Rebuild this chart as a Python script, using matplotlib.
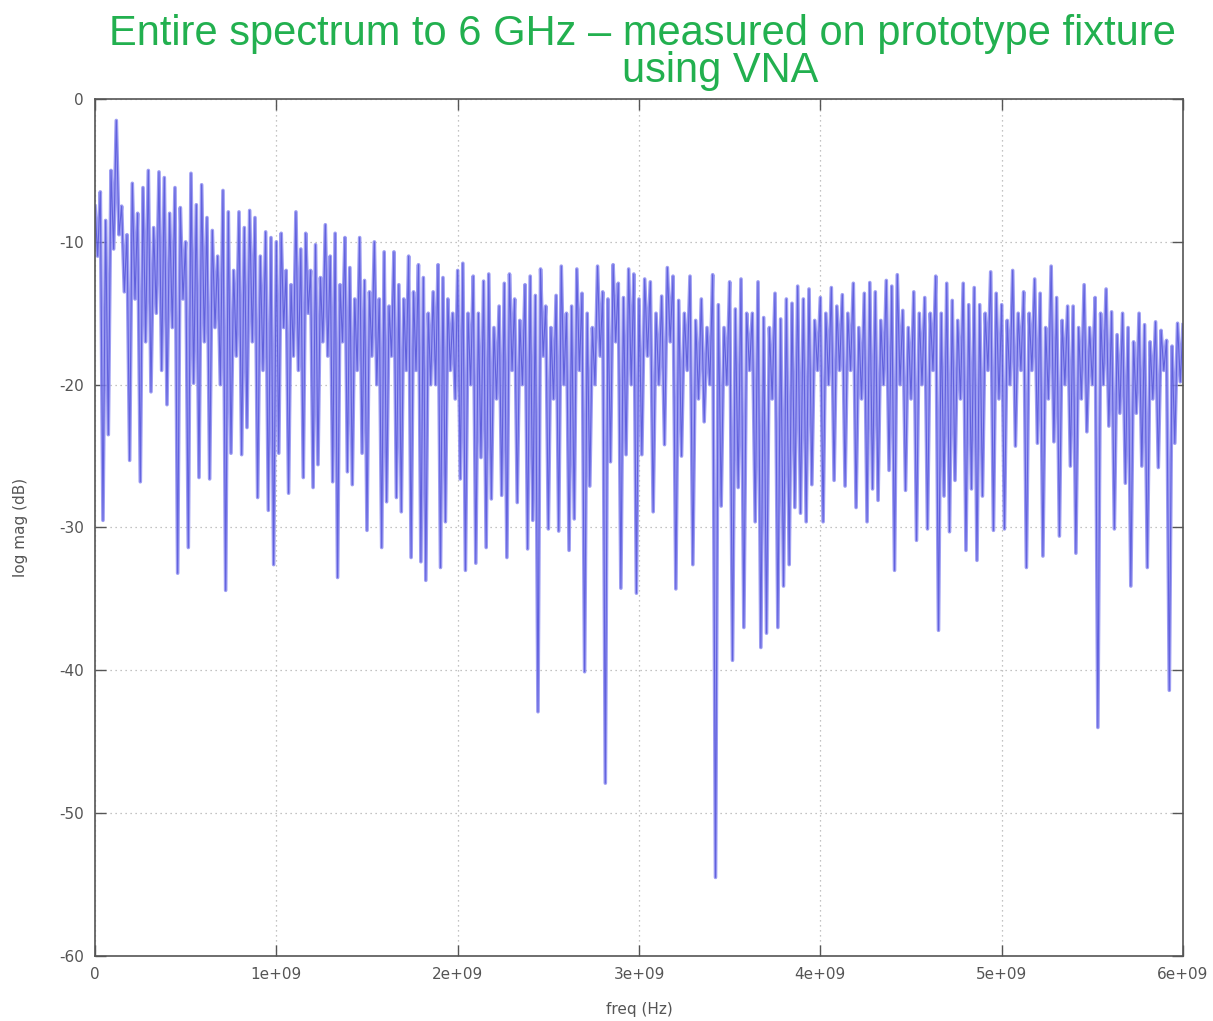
import numpy as np
import matplotlib
matplotlib.use("Agg")
import matplotlib.pyplot as plt
from matplotlib.ticker import FuncFormatter

plt.rcParams['axes.unicode_minus'] = False

# turning points of the measured trace (dB), one list per GHz band
mag_0_1 = [-7.5, -11, -6.5, -29.5, -8.5, -23.5, -5.0, -10.5, -1.5, -9.5, -7.5, -13.5,
           -9.5, -25.3, -5.9, -14, -8, -26.8, -6.2, -17, -5.0, -20.5, -9, -15,
           -5.1, -19, -5.5, -21.4, -8, -16, -6.2, -33.2, -7.6, -14, -10, -31.4,
           -5.2, -19.9, -7.4, -26.5, -6.0, -17, -8.3, -26.6, -9.2, -16, -11, -20,
           -6.4, -34.4, -7.9, -24.8, -12, -18, -7.9, -24.9, -9, -23, -7.8, -17,
           -8.3, -27.9, -11, -19, -9.3, -28.8, -9.7, -32.6]
mag_1_2 = [-10, -24.8, -9.4, -16, -12, -27.6, -13, -18, -7.9, -19, -10.5, -26.5, -9.4, -15,
           -12, -27.2, -10.2, -25.6, -12.5, -17, -8.8, -18, -11, -26.8, -9.4, -33.5, -13, -17,
           -9.7, -26.1, -11.8, -27, -14, -19, -9.7, -24.8, -12.7, -30.2, -13.5, -18, -10, -20,
           -14, -31.4, -10.7, -28.2, -14.5, -18, -10.7, -27.9, -13, -28.9, -14, -19, -11, -32.1,
           -13.5, -19, -11.6, -32.4, -12.5, -33.7, -15, -20, -13.5, -20, -11.6, -32.8,
           -12.5, -29.6, -14, -19, -15, -21]
mag_2_3 = [-12, -26.6, -11.5, -33, -15, -20, -12.4, -32.5, -15, -25.1, -12.75, -31.4, -12.25, -28, -16, -21,
           -14.5, -27.75, -12.9, -32.1, -12.25, -19, -14, -28.25, -15.5, -20, -13, -31.5, -12.4, -29.5,
           -13.75, -42.9, -11.9, -18, -14.5, -30.1, -16, -21, -13.75, -30.25, -11.7, -20, -15, -31.6,
           -14.5, -29.4, -11.9, -19, -13.6, -40.1, -15, -27.1, -16, -20, -11.7, -18, -13.5, -47.9,
           -14, -25.4, -11.6, -17, -12.9, -34.25, -13.9, -24.9, -11.9, -20, -12.25, -34.6]
mag_3_4 = [-14, -24.9, -12.6, -18, -12.8, -28.9, -15, -20, -13.8, -24.2, -11.8, -17, -12.4, -34.3,
           -14.1, -25, -15, -19, -12.4, -32.6, -15.5, -21, -14, -22.6, -16, -20, -12.3, -54.5,
           -14.4, -28.5, -16, -20, -12.8, -39.3, -14.7, -27.2, -12.6, -37, -15, -19, -15, -29.6,
           -12.8, -38.4, -15.3, -37.4, -16, -21, -13.6, -37, -15.4, -34.1, -14, -32.6, -14.3, -28.6,
           -13.1, -29, -14, -29.6, -13.3, -27, -15.5, -19]
mag_4_5 = [-13.9, -29.6, -15, -20, -13.2, -26.7, -14.5, -19, -13.7, -27.1, -15, -19, -12.9, -28.6,
           -16, -21, -13.6, -29.6, -12.85, -27.3, -13.5, -28.1, -15.5, -20, -12.7, -26, -13.1, -33,
           -12.3, -20, -14.8, -27.4, -16, -21, -13.5, -30.9, -15, -20, -13.9, -30.1, -15, -19,
           -12.4, -37.2, -15, -27.8, -12.9, -30.3, -14.1, -26.7, -15.5, -21, -12.9, -31.6,
           -14.4, -27.3, -13.2, -32.3, -14.4, -27.8, -15, -19, -12.1, -30.2, -13.6, -21]
mag_5_6 = [-14.4, -30.1, -15.5, -20, -12, -24.3, -15, -19, -13.5, -32.8, -15, -19, -12.6, -24.1,
           -13.6, -32, -16, -21, -11.7, -24, -13.9, -30.6, -15.5, -20, -14.5, -25.7, -14.5, -31.8,
           -16, -21, -13, -23.3, -16, -20, -13.9, -44, -15, -20, -13.3, -22.9, -14.9, -30.1,
           -16.5, -22, -15, -26.9, -16, -34.1, -17, -22, -15, -25.7, -15.8, -32.8, -17, -21,
           -15.6, -25.8, -16.2, -19, -16.9, -41.4, -17.3, -24.1, -15.7, -19.8]
mag_end = -15.8  # value at 6 GHz

bands = [mag_0_1, mag_1_2, mag_2_3, mag_3_4, mag_4_5, mag_5_6]

xticks = [0, 1e9, 2e9, 3e9, 4e9, 5e9, 6e9]
yticks = [0, -10, -20, -30, -40, -50, -60]

freq = []
mag = []
for k, band in enumerate(bands):
    n = len(band)
    freq.extend(k * 1e9 + np.arange(n) * 1e9 / n)
    mag.extend(band)
freq.append(6e9)
mag.append(mag_end)

fig = plt.figure(figsize=(12.13, 10.21), dpi=100)
ax = fig.add_axes([0.0783, 0.0637, 0.8970, 0.8393])

ax.plot(freq, mag, color='#8c8cf0', lw=2.6, alpha=0.85)
ax.plot(freq, mag, color='#3a3ad0', lw=0.8, alpha=0.6)

ax.set_xlim(0, 6e9)
ax.set_ylim(-60, 0)
ax.set_xticks(xticks)
ax.set_yticks(yticks)

def fmt_x(v, pos):
    if v == 0:
        return '0'
    return '%de+09' % round(v / 1e9)

ax.xaxis.set_major_formatter(FuncFormatter(fmt_x))
ax.grid(True, color='#b0b0b0', linestyle=(0, (1, 3)), lw=0.9)
ax.tick_params(direction='in', length=8, width=1, top=True, right=True,
               colors='#555555', labelsize=11, pad=8)
for s in ax.spines.values():
    s.set_color('#555555')
    s.set_linewidth(1.2)

ax.set_xlabel('freq (Hz)', fontsize=11, color='#555555', labelpad=14)
ax.set_ylabel('log mag (dB)', fontsize=11, color='#555555', labelpad=22)

fig.text(0.53, 0.967, 'Entire spectrum to 6 GHz \u2013 measured on prototype fixture',
         ha='center', va='center', color='#22b04f', fontsize=30,
         family='Liberation Sans')
fig.text(0.594, 0.930, 'using VNA',
         ha='center', va='center', color='#22b04f', fontsize=30,
         family='Liberation Sans')

fig.savefig('out.png', dpi=100)
